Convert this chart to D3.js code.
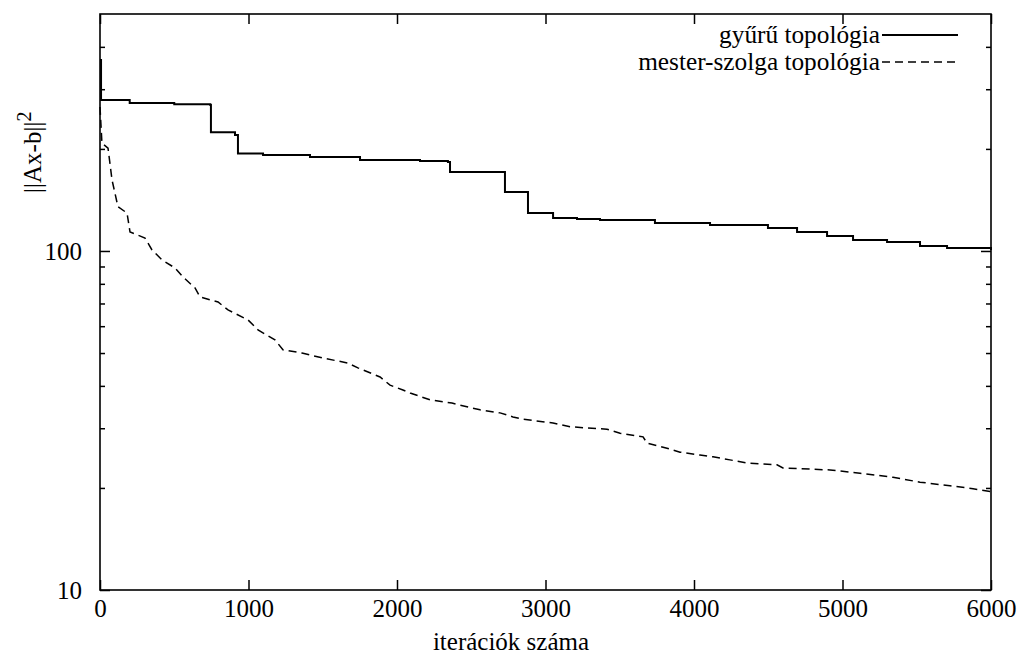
<!DOCTYPE html>
<html>
<head>
<meta charset="utf-8">
<script src="https://cdn.jsdelivr.net/npm/d3@7"></script>
<style>
  html, body { margin: 0; padding: 0; background: #fff; }
  svg { display: block; }
  svg text { font-family: "Liberation Serif", "Times New Roman", Tinos, "DejaVu Serif", "Noto Serif", serif !important; fill: #000; }
</style>
</head>
<body>
<svg id="chart" width="1026" height="655"></svg>
<script>
// ---- Data ----
const seriesNames = ["gyűrű topológia", "mester-szolga topológia"];

const ringIter = [0, 7, 200, 500, 741, 747, 909, 929, 1098, 1414, 1751, 2155, 2343, 2357, 2727, 2882, 3051, 3212, 3367, 3737, 4108, 4498, 4694, 4896, 5071, 5300, 5522, 5704, 6000];
const ringVal  = [366, 279, 273, 271, 270, 224, 220, 194, 192, 189.3, 185.5, 184.3, 183, 171, 149.3, 129.4, 125.1, 124.3, 123.4, 120.9, 119.3, 116.9, 113.8, 110.7, 107.8, 106.3, 103.4, 102, 100.7];

const msIter = [0, 13, 54, 81, 121, 182, 202, 303, 350, 418, 505, 559, 640, 673, 795, 862, 997, 1064, 1178, 1232, 1360, 1495, 1670, 1737, 1886, 1953, 2040, 2088, 2222, 2370, 2471, 2559, 2694, 2781, 2848, 3051, 3165, 3414, 3502, 3657, 3684, 3818, 3906, 4040, 4128, 4242, 4357, 4559, 4599, 4916, 5118, 5340, 5522, 5724, 5879, 6000];
const msVal  = [266, 208, 201, 162, 135, 129.4, 113.8, 109.2, 100.7, 94.1, 89.1, 83.8, 77.8, 73.2, 70.7, 67, 62.6, 58.5, 54.7, 51.1, 50, 48.4, 46.7, 45.2, 42.5, 40.2, 38.9, 38.1, 36.4, 35.6, 34.7, 34.0, 33.3, 32.4, 31.9, 31.1, 30.3, 29.8, 29.0, 28.3, 27.1, 26.2, 25.5, 25.0, 24.7, 24.2, 23.7, 23.4, 22.9, 22.6, 22.1, 21.5, 20.8, 20.3, 19.9, 19.5];

const xTicks = [0, 1000, 2000, 3000, 4000, 5000, 6000];
const yMajorTicks = [10, 100];
const yMinorTicks = [20, 30, 40, 50, 60, 70, 80, 90, 200, 300, 400];

const xLabel = "iterációk száma";

(function () {
const SERIF = '"Liberation Serif", "Times New Roman", Tinos, "DejaVu Serif", serif';
// ---- Layout ----
const mL = 100, mR = 991, mT = 14, mB = 590;
const svg = d3.select("#chart").attr("font-family", SERIF);

const x = d3.scaleLinear().domain([0, 6000]).range([mL, mR]);
const y = d3.scaleLog().domain([10, 500]).range([mB, mT]);

const FS = 25;

function styleAxis(g) {
  g.attr("font-family", SERIF);
  g.select(".domain").remove();
  g.selectAll("line").attr("stroke-width", 1.5);
}

// Bottom axis (ticks inward)
const gx = svg.append("g").attr("transform", `translate(0,${mB})`)
  .call(d3.axisBottom(x).tickValues(xTicks).tickSize(-10).tickPadding(9).tickFormat(d3.format("d")));
styleAxis(gx);
gx.selectAll("text").attr("font-size", FS);

// Top mirrored ticks
const gxt = svg.append("g").attr("transform", `translate(0,${mT})`)
  .call(d3.axisTop(x).tickValues(xTicks).tickSize(-10).tickFormat(""));
styleAxis(gxt);

// Left axis major
const gy = svg.append("g").attr("transform", `translate(${mL},0)`)
  .call(d3.axisLeft(y).tickValues(yMajorTicks).tickSize(-10).tickPadding(18).tickFormat(d3.format("d")));
styleAxis(gy);
gy.selectAll("text").attr("font-size", FS).attr("dy", "0.34em");

// Left minor
const gym = svg.append("g").attr("transform", `translate(${mL},0)`)
  .call(d3.axisLeft(y).tickValues(yMinorTicks).tickSize(-5).tickFormat(""));
styleAxis(gym);

// Right mirrored
const gyr = svg.append("g").attr("transform", `translate(${mR},0)`)
  .call(d3.axisRight(y).tickValues(yMajorTicks).tickSize(-10).tickFormat(""));
styleAxis(gyr);
const gyrm = svg.append("g").attr("transform", `translate(${mR},0)`)
  .call(d3.axisRight(y).tickValues(yMinorTicks).tickSize(-5).tickFormat(""));
styleAxis(gyrm);

// Frame
svg.append("rect")
  .attr("x", mL).attr("y", mT)
  .attr("width", mR - mL).attr("height", mB - mT)
  .attr("fill", "none").attr("stroke", "#000").attr("stroke-width", 1.6);

// Lines
const ringData = ringIter.map((d, i) => [d, ringVal[i]]);
const msData = msIter.map((d, i) => [d, msVal[i]]);

const ringLine = d3.line().x(d => x(d[0])).y(d => y(d[1])).curve(d3.curveStepAfter);
const msLine = d3.line().x(d => x(d[0])).y(d => y(d[1]));

svg.append("path").datum(ringData)
  .attr("d", ringLine).attr("fill", "none").attr("stroke", "#000").attr("stroke-width", 2);

svg.append("path").datum(msData)
  .attr("d", msLine).attr("fill", "none").attr("stroke", "#000").attr("stroke-width", 1.5)
  .attr("stroke-dasharray", "8,5");

// Legend
const legend = [
  { name: seriesNames[0], dash: null, w: 2, ly: 35, ty: 43 },
  { name: seriesNames[1], dash: "8,5", w: 1.5, ly: 62, ty: 70 }
];
legend.forEach(l => {
  svg.append("text").attr("x", 880).attr("y", l.ty).attr("text-anchor", "end")
    .attr("font-size", 25.3).text(l.name);
  const ln = svg.append("line").attr("x1", 882).attr("x2", 958)
    .attr("y1", l.ly).attr("y2", l.ly).attr("stroke", "#000").attr("stroke-width", l.w);
  if (l.dash) ln.attr("stroke-dasharray", l.dash);
});

// Axis labels
svg.append("text").attr("x", 511).attr("y", 650).attr("text-anchor", "middle")
  .attr("font-size", FS).text(xLabel);

const yl = svg.append("text")
  .attr("transform", "translate(41,193) rotate(-90)")
  .attr("text-anchor", "start").attr("font-size", FS);
yl.append("tspan").text("||Ax-b||");
yl.append("tspan").attr("font-size", 20).attr("dy", -10).text("2");
})();
</script>
</body>
</html>
